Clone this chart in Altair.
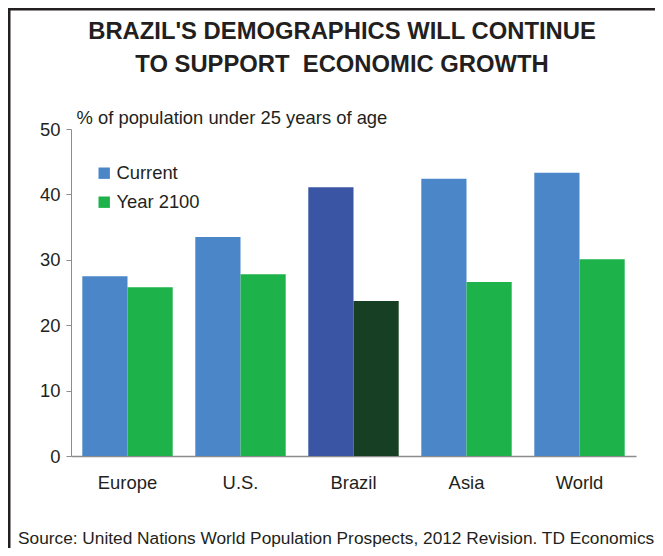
import altair as alt
import pandas as pd

regions = ["Europe", "U.S.", "Brazil", "Asia", "World"]
current = [27.5, 33.5, 41.1, 42.4, 43.3]
year2100 = [25.8, 27.8, 23.7, 26.6, 30.1]
series_names = ["Current", "Year 2100"]
color_keys = ["Current", "Year 2100", "Brazil Current", "Brazil 2100"]
colors = ["#4a86c8", "#1db34a", "#3a55a4", "#173f24"]

title_lines = ["BRAZIL'S DEMOGRAPHICS WILL CONTINUE", "TO SUPPORT\u00a0 ECONOMIC GROWTH"]
y_title = "% of population under 25 years of age"
source = "Source: United Nations World Population Prospects, 2012 Revision. TD Economics"

rows = []
for r, c, f in zip(regions, current, year2100):
    rows.append({"region": r, "series": "Current", "value": c,
                 "key": "Brazil Current" if r == "Brazil" else "Current"})
    rows.append({"region": r, "series": "Year 2100", "value": f,
                 "key": "Brazil 2100" if r == "Brazil" else "Year 2100"})
df = pd.DataFrame(rows)

FONT = "Liberation Sans"
TXT = "#231f20"
W, H = 565, 327
FS = 18.4

bars = alt.Chart(df).mark_bar().encode(
    x=alt.X("region:N", sort=regions,
            scale=alt.Scale(paddingInner=0.2, paddingOuter=0.1),
            axis=alt.Axis(title=None, labelAngle=0, ticks=False, labelPadding=17,
                          labelFontSize=FS, labelColor=TXT, domainColor="#8c8c8c",
                          domainWidth=1.5)),
    xOffset=alt.XOffset("series:N", sort=series_names),
    y=alt.Y("value:Q", scale=alt.Scale(domain=[0, 50]),
            axis=alt.Axis(values=[0, 10, 20, 30, 40, 50], grid=False, title=y_title,
                          titleAngle=0, titleAlign="left", titleX=5, titleY=-6,
                          titleBaseline="alphabetic", titleFontWeight="normal",
                          titleFontSize=FS, titleColor=TXT, tickSize=5,
                          tickColor="#8c8c8c", domainColor="#8c8c8c",
                          labelPadding=6, labelFontSize=FS, labelColor=TXT)),
    color=alt.Color("key:N", scale=alt.Scale(domain=color_keys, range=colors),
                    legend=alt.Legend(values=series_names, orient="none", legendX=24,
                                      legendY=35, title=None, symbolType="square",
                                      symbolSize=130, symbolStrokeWidth=0,
                                      labelFontSize=FS, labelColor=TXT, rowPadding=10,
                                      labelOffset=3)),
)

one = pd.DataFrame({"a": [0]})
frame_left = alt.Chart(one).mark_rule(color="#231f20", strokeWidth=3).encode(
    x=alt.value(-62), x2=alt.value(-62), y=alt.value(-121.5), y2=alt.value(440))
frame_top = alt.Chart(one).mark_rule(color="#231f20", strokeWidth=3).encode(
    x=alt.value(-63.5), x2=alt.value(600), y=alt.value(-120), y2=alt.value(-120))

t1 = alt.Chart(one).mark_text(text=title_lines[0], fontSize=23.8, fontWeight="bold",
                              font=FONT, color=TXT, align="center",
                              baseline="alphabetic").encode(
    x=alt.value(271), y=alt.value(-90))
t2 = alt.Chart(one).mark_text(text=title_lines[1], fontSize=23.8, fontWeight="bold",
                              font=FONT, color=TXT, align="center",
                              baseline="alphabetic").encode(
    x=alt.value(271), y=alt.value(-57))
src = alt.Chart(one).mark_text(text=source, fontSize=17.3, font=FONT, color=TXT,
                               align="left", baseline="alphabetic").encode(
    x=alt.value(-53), y=alt.value(415))

chart = alt.layer(bars, frame_left, frame_top, t1, t2, src).properties(
    width=W, height=H,
    autosize=alt.AutoSizeParams(type="none"),
    padding={"left": 63, "top": 121, "right": 19, "bottom": 92},
).configure(font=FONT).configure_view(stroke=None)

chart.save("out.html", embed_options={"renderer": "svg", "actions": False})
